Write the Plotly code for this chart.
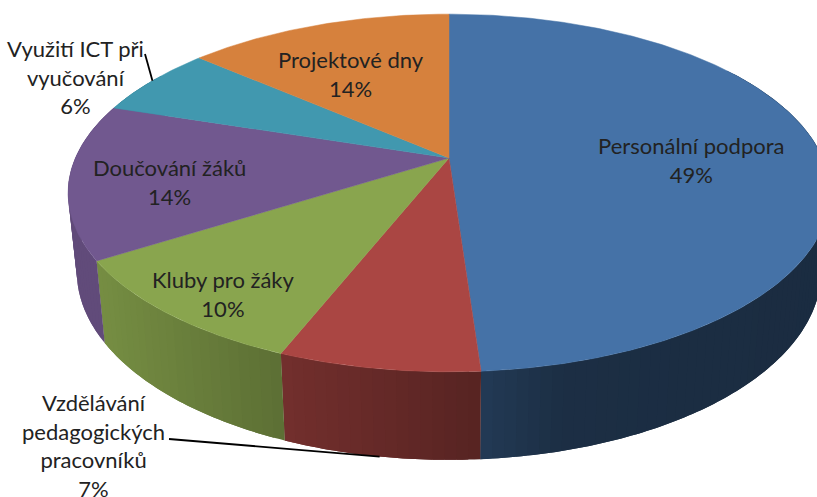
import numpy as np
import plotly.graph_objects as go

categories = ["Personální podpora", "Vzdělávání pedagogických pracovníků", "Kluby pro žáky",
              "Doučování žáků", "Využití ICT při vyučování", "Projektové dny"]
values = [48.9, 7.1, 10.0, 14.0, 6.4, 13.6]
label_lines = ["Personální podpora", "Vzdělávání<br>pedagogických<br>pracovníků", "Kluby pro žáky",
               "Doučování žáků", "Využití ICT při<br>vyučování", "Projektové dny"]

colors = ["#4572A7", "#AA4643", "#89A54E", "#71588F", "#4198AF", "#D6813D"]
label_pos = [(691, 160), (93, 445), (223, 294), (169, 182), (75, 77), (351, 74)]

CX, CY, A, B, K = 449.0, 158.0, 373.6, 172.0, 0.1955
SX, SY, DY = 0.977, 1.054, 76.5


def top(theta):
    u, v = np.sin(theta), np.cos(theta)
    s = 1 / (1 + K * v)
    return CX + A * u * s, CY - B * v * s


def bottom(theta):
    x, y = top(theta)
    return CX + SX * (x - CX), CY + DY + SY * (y - CY)


def shade(hex_color, f):
    rgb = [int(hex_color[i:i + 2], 16) for i in (1, 3, 5)]
    return "rgb({},{},{})".format(*[int(c * f) for c in rgb])


fractions = np.cumsum([0] + values) / sum(values)
angles = fractions * 2 * np.pi
fig = go.Figure()

# side wall: overlapping strips, each painted over the last, so no seams show
for i, col in enumerate(colors):
    a0, a1 = angles[i], angles[i + 1]
    n = max(2, int((a1 - a0) / np.radians(1.5)))
    edges = np.linspace(a0, a1, n + 1)
    for j in range(n):
        e0 = edges[j]
        e1 = edges[min(j + 2, n)]
        if not (np.radians(55) < e0 < np.radians(300)):
            continue
        t = np.linspace(e0, e1, 5)
        xt, yt = top(t)
        xb, yb = bottom(t)
        f = float(np.interp(xt[0], [100, 284, 480, 570, 820], [0.86, 0.68, 0.52, 0.41, 0.39]))
        c = shade(col, f)
        fig.add_trace(go.Scatter(x=np.r_[xt, xb[::-1], xt[0]], y=np.r_[yt, yb[::-1], yt[0]], mode="none",
                                 fill="toself", fillcolor=c, hoverinfo="skip", showlegend=False))

# top face
for i, col in enumerate(colors):
    t = np.linspace(angles[i], angles[i + 1], max(3, int((angles[i + 1] - angles[i]) / np.radians(0.5))))
    ex, ey = top(t)
    fig.add_trace(go.Scatter(x=np.r_[CX, ex, CX], y=np.r_[CY, ey, CY], mode="lines", fill="toself",
                             fillcolor=col, line=dict(color=col, width=0.5),
                             name=categories[i], text=f"{categories[i]}: {round(values[i])}%", hoverinfo="text",
                             showlegend=False))

# leader lines, anchored on the middle of their slices
mid = (angles[:-1] + angles[1:]) / 2
lx, ly = bottom(mid[1])
tx, ty = top(mid[4])
fig.add_trace(go.Scatter(x=[169, lx], y=[439, ly], mode="lines", line=dict(color="black", width=1.8),
                         hoverinfo="skip", showlegend=False))
fig.add_trace(go.Scatter(x=[145, tx], y=[54, ty], mode="lines", line=dict(color="black", width=1.8),
                         hoverinfo="skip", showlegend=False))

for text, v, (x, y) in zip(label_lines, values, label_pos):
    fig.add_annotation(x=x, y=y, text=f"{text}<br>{round(v)}%", showarrow=False, align="center",
                       xanchor="center", yanchor="middle",
                       font=dict(family="Lato, Carlito, sans-serif", size=22, color="#222222"))

fig.update_xaxes(range=[0, 817], visible=False, fixedrange=True)
fig.update_yaxes(range=[497, 0], visible=False, fixedrange=True)
fig.update_layout(width=817, height=497, margin=dict(l=0, r=0, t=0, b=0),
                  paper_bgcolor="white", plot_bgcolor="white", showlegend=False)
fig.write_html("out.html", post_script="document.body.style.margin='0';document.body.style.overflow='hidden';",
               config={"displayModeBar": False})
